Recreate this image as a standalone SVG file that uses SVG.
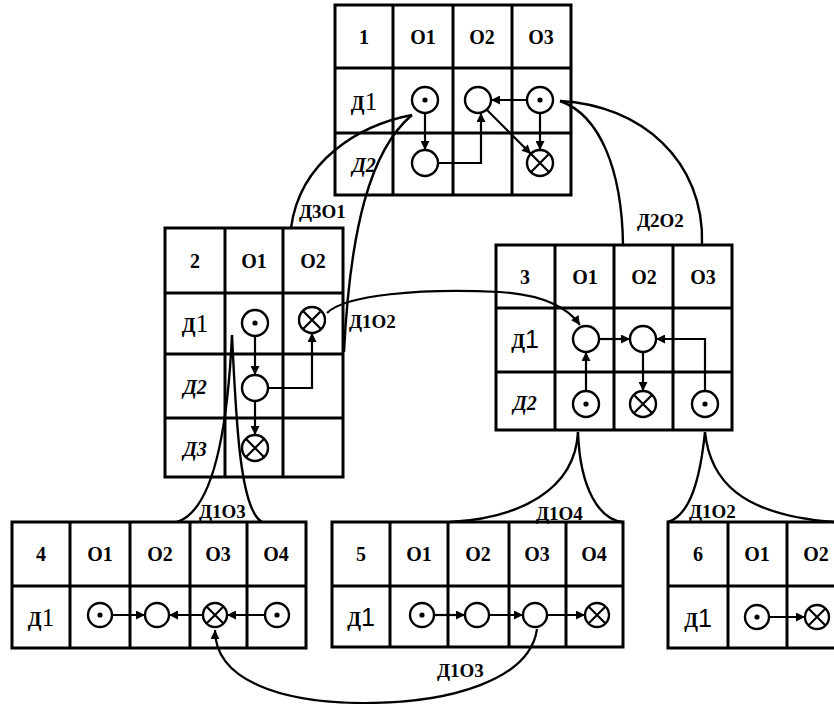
<svg xmlns="http://www.w3.org/2000/svg" width="834" height="704" viewBox="0 0 834 704">
<style>
.g{fill:none;stroke:#000;stroke-width:3}
.c{fill:#fff;stroke:#000;stroke-width:2.4}
.d{fill:#000}
.x{stroke:#000;stroke-width:2.2}
.a{fill:none;stroke:#000;stroke-width:2.2}
.w{fill:none;stroke:#000;stroke-width:2.4}
.t{font-family:"Liberation Serif",serif;font-weight:bold;font-size:20px;text-anchor:middle;fill:#000}
.l{font-family:"Liberation Serif",serif;font-weight:bold;font-size:19px;fill:#000}
.n{font-weight:normal;font-size:25px}
.ns{font-family:"Liberation Sans",sans-serif;font-weight:normal;font-size:25px}
</style>
<defs>
<marker id="ah" viewBox="0 0 10 10" refX="10" refY="5" markerWidth="11" markerHeight="9" markerUnits="userSpaceOnUse" orient="auto">
<path d="M0,0 L10,5 L0,10 z" fill="#000"/>
</marker>
<g id="dotc"><circle class="c" r="13"/><circle class="d" r="2.6"/></g>
<g id="crossc"><circle class="c" r="13"/><path class="x" d="M-9.2,-9.2 L9.2,9.2 M-9.2,9.2 L9.2,-9.2"/></g>
<g id="dots"><circle class="c" r="12"/><circle class="d" r="2.6"/></g>
<g id="crosss"><circle class="c" r="12"/><path class="x" d="M-8.5,-8.5 L8.5,8.5 M-8.5,8.5 L8.5,-8.5"/></g>
</defs>

<g id="connectors">
<path class="w" d="M412,115 C360,125 300,160 291,228"/>
<path class="w" d="M412,115 C370,150 350,230 344,352"/>
<path class="w" d="M560,101 C600,115 622,170 623,245"/>
<path class="w" d="M560,101 C640,105 705,160 702,245"/>
<path class="a" d="M327,313 C345,295 420,288 500,292 C545,295 568,308 580,325" marker-end="url(#ah)"/>
<path class="w" d="M232,335 C228,420 215,510 177,522"/>
<path class="w" d="M232,335 C236,420 240,510 262,522"/>
<path class="w" d="M578,432 C575,490 520,518 450,522"/>
<path class="w" d="M578,432 C580,490 600,520 623,522"/>
<path class="w" d="M705,432 C700,480 690,515 668,522"/>
<path class="w" d="M705,432 C710,480 740,515 834,522"/>
<path class="a" d="M537,629 C530,680 450,703 365,703 C280,703 215,680 215,630" marker-end="url(#ah)"/>
<text class="l" x="299" y="218">Д3О1</text>
<text class="l" x="637" y="227">Д2О2</text>
<text class="l" x="349" y="328">Д1О2</text>
<text class="l" x="199" y="518">Д1О3</text>
<text class="l" x="536" y="520">Д1О4</text>
<text class="l" x="689" y="518">Д1О2</text>
<text class="l" x="437" y="677">Д1О3</text>
</g>

<g id="t1">
<path class="g" d="M335,5 H571 V195 H335 Z M335,68 H571 M335,133 H571 M393,5 V195 M453,5 V195 M512,5 V195"/>
<text class="t" x="364" y="44">1</text><text class="t" x="423" y="44">О1</text><text class="t" x="482" y="44">О2</text><text class="t" x="541" y="44">О3</text>
<text class="t" x="364" y="110">Д<tspan class="n">1</tspan></text>
<text class="t" x="364" y="172" font-style="italic">Д2</text>
<path class="a" d="M425,113 V150" marker-end="url(#ah)"/>
<path class="a" d="M438,163 H481 V113" marker-end="url(#ah)"/>
<path class="a" d="M527,100 H491" marker-end="url(#ah)"/>
<path class="a" d="M540,113 V150" marker-end="url(#ah)"/>
<path class="a" d="M487,110 L531,154" marker-end="url(#ah)"/>
<use href="#dotc" x="425" y="100"/>
<circle class="c" cx="478" cy="100" r="13"/>
<use href="#dotc" x="540" y="100"/>
<circle class="c" cx="425" cy="163" r="13"/>
<use href="#crossc" x="540" y="163"/>
</g>

<g id="t2">
<path class="g" d="M165,228 H343 V477 H165 Z M165,293 H343 M165,354 H343 M165,418 H343 M225,228 V477 M283,228 V477"/>
<text class="t" x="195" y="268">2</text><text class="t" x="254" y="268">О1</text><text class="t" x="313" y="268">О2</text>
<text class="t" x="195" y="332">Д<tspan class="n">1</tspan></text>
<text class="t" x="195" y="394" font-style="italic">Д2</text>
<text class="t" x="195" y="456" font-style="italic">Д3</text>
<path class="a" d="M255,336 V375" marker-end="url(#ah)"/>
<path class="a" d="M268,388 H312 V333" marker-end="url(#ah)"/>
<path class="a" d="M255,401 V435" marker-end="url(#ah)"/>
<use href="#dotc" x="255" y="323"/>
<use href="#crossc" x="312" y="320"/>
<circle class="c" cx="255" cy="388" r="13"/>
<use href="#crossc" x="255" y="448"/>
</g>

<g id="t3">
<path class="g" d="M496,245 H732 V430 H496 Z M496,308 H732 M496,372 H732 M555,245 V430 M614,245 V430 M673,245 V430"/>
<text class="t" x="525" y="284">3</text><text class="t" x="585" y="284">О1</text><text class="t" x="644" y="284">О2</text><text class="t" x="703" y="284">О3</text>
<text class="t" x="525" y="348">Д<tspan class="ns">1</tspan></text>
<text class="t" x="525" y="410" font-style="italic">Д2</text>
<path class="a" d="M599,339 H630" marker-end="url(#ah)"/>
<path class="a" d="M586,391 V352" marker-end="url(#ah)"/>
<path class="a" d="M643,352 V391" marker-end="url(#ah)"/>
<path class="a" d="M705,391 V339 H656" marker-end="url(#ah)"/>
<circle class="c" cx="586" cy="339" r="13"/>
<circle class="c" cx="643" cy="339" r="13"/>
<use href="#dotc" x="586" y="404"/>
<use href="#crossc" x="643" y="404"/>
<use href="#dotc" x="705" y="404"/>
</g>

<g id="t4">
<path class="g" d="M12,522 H306 V648 H12 Z M12,586 H306 M70,522 V648 M130,522 V648 M190,522 V648 M247,522 V648"/>
<text class="t" x="41" y="561">4</text><text class="t" x="100" y="561">О1</text><text class="t" x="160" y="561">О2</text><text class="t" x="218" y="561">О3</text><text class="t" x="276" y="561">О4</text>
<text class="t" x="41" y="626">Д<tspan class="n">1</tspan></text>
<path class="a" d="M112,615 H145" marker-end="url(#ah)"/>
<path class="a" d="M203,615 H169" marker-end="url(#ah)"/>
<path class="a" d="M265,615 H227" marker-end="url(#ah)"/>
<use href="#dots" x="100" y="615"/>
<circle class="c" cx="157" cy="615" r="12"/>
<use href="#crosss" x="215" y="615"/>
<use href="#dots" x="277" y="615"/>
</g>

<g id="t5">
<path class="g" d="M332,522 H623 V647 H332 Z M332,586 H623 M390,522 V647 M448,522 V647 M509,522 V647 M566,522 V647"/>
<text class="t" x="361" y="561">5</text><text class="t" x="419" y="561">О1</text><text class="t" x="478" y="561">О2</text><text class="t" x="537" y="561">О3</text><text class="t" x="594" y="561">О4</text>
<text class="t" x="361" y="626">Д<tspan class="ns">1</tspan></text>
<path class="a" d="M434,615 H465" marker-end="url(#ah)"/>
<path class="a" d="M489,615 H523" marker-end="url(#ah)"/>
<path class="a" d="M547,615 H585" marker-end="url(#ah)"/>
<use href="#dots" x="422" y="615"/>
<circle class="c" cx="477" cy="615" r="12"/>
<circle class="c" cx="535" cy="615" r="12"/>
<use href="#crosss" x="597" y="615"/>
</g>

<g id="t6">
<path class="g" d="M668,522 H846 V648 H668 Z M668,586 H846 M728,522 V648 M787,522 V648"/>
<text class="t" x="698" y="561">6</text><text class="t" x="757" y="561">О1</text><text class="t" x="816" y="561">О2</text>
<text class="t" x="698" y="627">Д<tspan class="ns">1</tspan></text>
<path class="a" d="M769,617 H805" marker-end="url(#ah)"/>
<use href="#dots" x="757" y="617"/>
<use href="#crosss" x="817" y="617"/>
</g>
</svg>
